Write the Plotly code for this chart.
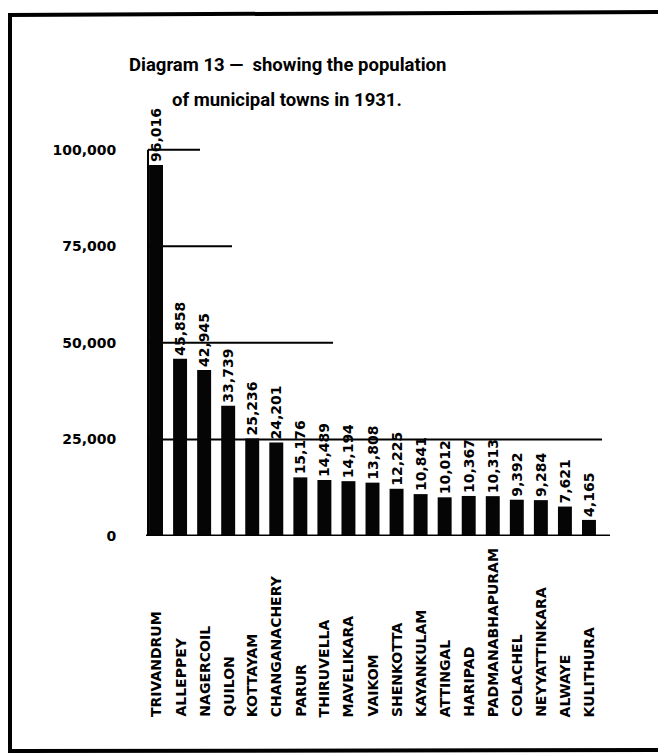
import plotly.graph_objects as go

towns = ["TRIVANDRUM", "ALLEPPEY", "NAGERCOIL", "QUILON", "KOTTAYAM",
         "CHANGANACHERY", "PARUR", "THIRUVELLA", "MAVELIKARA", "VAIKOM",
         "SHENKOTTA", "KAYANKULAM", "ATTINGAL", "HARIPAD", "PADMANABHAPURAM",
         "COLACHEL", "NEYYATTINKARA", "ALWAYE", "KULITHURA"]
population = [96016, 45858, 42945, 33739, 25236,
              24201, 15176, 14489, 14194, 13808,
              12225, 10841, 10012, 10367, 10313,
              9392, 9284, 7621, 4165]
y_ticks = [0, 25000, 50000, 75000, 100000]
y_tick_labels = ["0", "25,000", "50,000", "75,000", "100,000"]
title_lines = ["Diagram 13 —  showing the population", "of municipal towns in 1931."]

OFF = 8  # page body margin in the browser
W, H = 666 - OFF, 755 - OFF

def px(x):
    return (x - OFF) / W

def py(y):
    return 1 - (y - OFF) / H

# plot area in (screen) pixels
X0, X1 = 144, 601
Y_ZERO, Y_TOP = 536, 111
Y_MAX = 110000

fig = go.Figure()
fig.add_trace(go.Bar(
    x=list(range(len(towns))), y=population,
    marker=dict(color="#050505", line=dict(width=0)),
    width=0.58,
    text=[f"{v:,}" for v in population],
    textposition="outside", textangle=-90, constraintext="none",
    cliponaxis=False,
    outsidetextfont=dict(family="DejaVu Sans", size=14, color="#000", weight="bold"),
))

fig.update_layout(
    width=W, height=H, autosize=False,
    margin=dict(l=0, r=0, t=0, b=0),
    paper_bgcolor="white", plot_bgcolor="white",
    showlegend=False,
    xaxis=dict(domain=[px(X0), px(X1)], range=[-0.5, len(towns) - 0.5],
               showticklabels=False, showgrid=False, zeroline=False,
               showline=False, ticks="", automargin=False, fixedrange=True),
    yaxis=dict(domain=[py(Y_ZERO), py(Y_TOP)], range=[0, Y_MAX],
               tickvals=y_ticks, ticktext=y_tick_labels,
               tickfont=dict(family="DejaVu Sans", size=14, color="#000", weight="bold"),
               ticks="outside", ticklen=24, tickcolor="rgba(0,0,0,0)",
               showgrid=False, zeroline=False, showline=False,
               automargin=False, fixedrange=True),
)

# category labels, rotated, bottom-aligned
for i, t in enumerate(towns):
    fig.add_annotation(x=i, xref="x", y=py(719), yref="paper",
                       text=t, textangle=-90, showarrow=False,
                       xanchor="center", yanchor="bottom",
                       font=dict(family="DejaVu Sans", size=14, color="#000", weight="bold"))

# title
for line, yy in zip(title_lines, [65, 100]):
    fig.add_annotation(x=px(287), xref="paper", y=py(yy), yref="paper",
                       text=line, showarrow=False, xanchor="center", yanchor="middle",
                       font=dict(family="Roboto", size=18.5, color="#000", weight="bold"))

# reference lines of varying length (pixel extents from the drawing)
grid_ext = {100000: 200, 75000: 232, 50000: 333, 25000: 602}
for val, xend in grid_ext.items():
    fig.add_shape(type="line", xref="paper", yref="y", x0=px(148), x1=px(xend),
                  y0=val, y1=val, line=dict(color="#000", width=2), layer="below")
# vertical axis line and baseline
fig.add_shape(type="line", xref="paper", yref="y", x0=px(148), x1=px(148),
              y0=0, y1=100000, line=dict(color="#000", width=2), layer="below")
fig.add_shape(type="line", xref="paper", yref="y", x0=px(146), x1=px(610),
              y0=0, y1=0, line=dict(color="#000", width=3))

# page frame
fig.add_shape(type="line", xref="paper", yref="paper", x0=px(8), x1=px(666),
              y0=py(15), y1=py(12), line=dict(color="#000", width=4))
fig.add_shape(type="line", xref="paper", yref="paper", x0=px(10), x1=px(10),
              y0=py(14), y1=py(753), line=dict(color="#000", width=4))
fig.add_shape(type="line", xref="paper", yref="paper", x0=px(10), x1=px(666),
              y0=py(751), y1=py(750), line=dict(color="#000", width=4))

fig.write_html("out.html")
